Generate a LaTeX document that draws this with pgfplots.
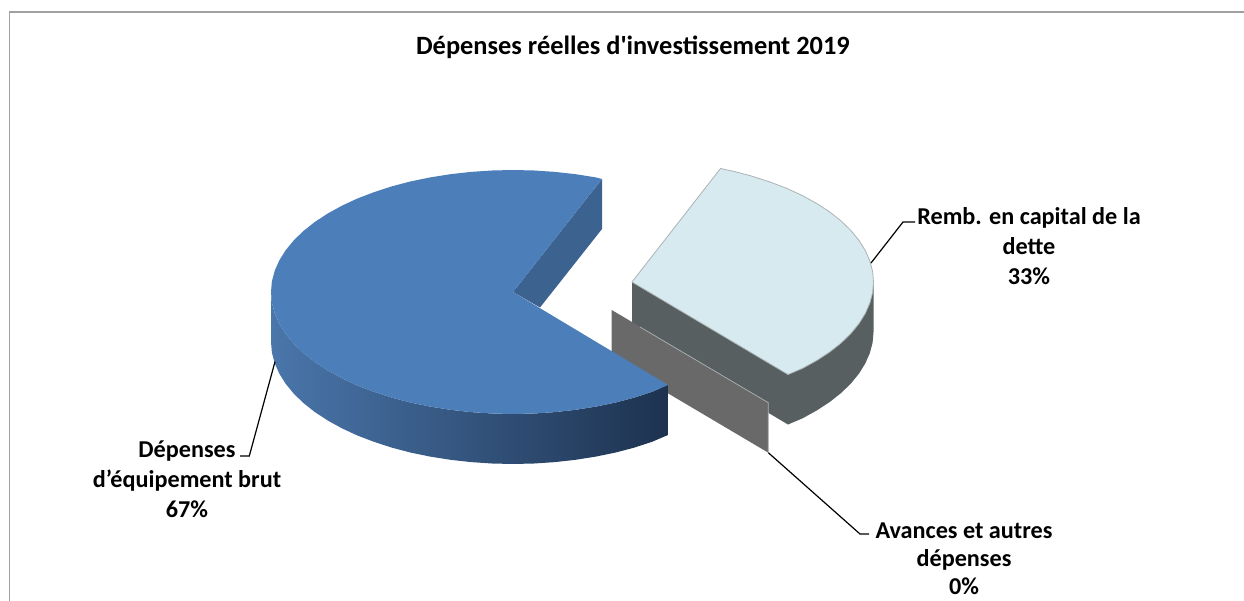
\documentclass[border=0pt]{standalone}
\usepackage{pgfplots}
\pgfplotsset{compat=1.18}
\usepackage{fontspec}
\setmainfont{Carlito}
\newfontfamily\titlefont[Ligatures=TeXOff]{Carlito}
\definecolor{blueTop}{HTML}{4C7EB9}
\definecolor{blueIn}{HTML}{3C6290}
\definecolor{blueA}{HTML}{4A76AB}
\definecolor{blueB}{HTML}{345A87}
\definecolor{blueC}{HTML}{1D324F}
\definecolor{paleTop}{HTML}{D7EAF0}
\definecolor{paleSide}{HTML}{575F60}
\definecolor{paleEdge}{HTML}{ABB3B5}
\definecolor{slab}{HTML}{696969}
\definecolor{frame}{HTML}{A0A0A0}
\newcommand{\lbl}{\fontsize{24.2}{30}\selectfont\bfseries}
\begin{document}
\begin{tikzpicture}
\begin{axis}[
  scale only axis, width=1244pt, height=601pt,
  xmin=0, xmax=1244, ymin=0, ymax=601, y dir=reverse,
  hide axis, clip=true]
% page ground and chart frame
\addplot[fill=white, draw=none] coordinates {(0,0) (1244,0) (1244,601) (0,601)} -- cycle;
\addplot[frame, line width=1.5pt] coordinates {(9.7,601) (9.7,11.8) (1244,11.8)};

% 33% slice: walls, then top face
\addplot[fill=paleSide, draw=none] coordinates {(632,282) (788,374.5) (788,424.5) (632,332)} -- cycle;
\addplot[fill=paleSide, draw=none] coordinates {
 (873.5,282) (872.6,292.6) (869.8,303.2) (865.2,313.6) (858.9,323.7) (850.8,333.6)
 (841.1,343) (829.7,352) (816.9,360.4) (802.6,368.3) (788,374.5)
 (788,424.5) (802.6,418.3) (816.9,410.4) (829.7,402) (841.1,393) (850.8,383.6)
 (858.9,373.7) (865.2,363.6) (869.8,353.2) (872.6,342.6) (873.5,332)} -- cycle;
\addplot[fill=paleTop, draw=paleEdge, line width=0.8pt] coordinates {
 (632,282) (720.5,168.5) (733.8,171.4) (752.5,176.3) (770.3,182.1) (787.1,188.5)
 (802.6,195.7) (816.9,203.6) (829.7,212) (841.1,221) (850.8,230.4) (858.9,240.3)
 (865.2,250.4) (869.8,260.8) (872.6,271.4) (873.5,282) (872.6,292.6) (869.8,303.2)
 (865.2,313.6) (858.9,323.7) (850.8,333.6) (841.1,343) (829.7,352) (816.9,360.4)
 (802.6,368.3) (788,374.5)} -- cycle;

% 0% slice: a flat wall only
\addplot[fill=slab, draw=none] coordinates {(611.7,310) (768.3,402.7) (768.3,452.7) (611.7,360)} -- cycle;
\addplot[color=paleEdge, line width=0.7pt] coordinates {(640,327) (768.3,402.7) (768.3,452.7)};

% 67% slice: inner wall, outer wall, then top face
\addplot[fill=blueIn, draw=none] coordinates {(513,292) (602,179) (602,229) (540,307.5)} -- cycle;
\addplot[draw=none, left color=blueA, middle color=blueB, right color=blueC] coordinates {
 (271,292) (271.9,302.6) (274.7,313.2) (279.3,323.6) (285.6,333.7) (293.7,343.6)
 (303.4,353) (314.8,362) (327.6,370.4) (341.9,378.3) (357.4,385.5) (374.2,391.9)
 (392,397.7) (410.7,402.6) (430.2,406.6) (450.4,409.8) (470.9,412.1) (491.9,413.5)
 (513,414) (534.1,413.5) (555.1,412.1) (575.6,409.8) (595.8,406.6) (615.3,402.6)
 (634,397.7) (651.8,391.9) (668,385)
 (668,435) (651.8,441.9) (634,447.7) (615.3,452.6) (595.8,456.6) (575.6,459.8)
 (555.1,462.1) (534.1,463.5) (513,464) (491.9,463.5) (470.9,462.1) (450.4,459.8)
 (430.2,456.6) (410.7,452.6) (392,447.7) (374.2,441.9) (357.4,435.5) (341.9,428.3)
 (327.6,420.4) (314.8,412) (303.4,403) (293.7,393.6) (285.6,383.7) (279.3,373.6)
 (274.7,363.2) (271.9,352.6) (271,342)} -- cycle;
\addplot[fill=blueTop, draw=none] coordinates {
 (513,292) (602,179) (595.8,177.4) (575.6,174.2) (555.1,171.9) (534.1,170.5) (513,170)
 (491.9,170.5) (470.9,171.9) (450.4,174.2) (430.2,177.4) (410.7,181.4) (392,186.3)
 (374.2,192.1) (357.4,198.5) (341.9,205.7) (327.6,213.6) (314.8,222) (303.4,231)
 (293.7,240.4) (285.6,250.3) (279.3,260.4) (274.7,270.8) (271.9,281.4) (271,292)
 (271.9,302.6) (274.7,313.2) (279.3,323.6) (285.6,333.7) (293.7,343.6) (303.4,353)
 (314.8,362) (327.6,370.4) (341.9,378.3) (357.4,385.5) (374.2,391.9) (392,397.7)
 (410.7,402.6) (430.2,406.6) (450.4,409.8) (470.9,412.1) (491.9,413.5) (513,414)
 (534.1,413.5) (555.1,412.1) (575.6,409.8) (595.8,406.6) (615.3,402.6) (634,397.7)
 (651.8,391.9) (668,385)} -- cycle;

% leader lines
\addplot[black, line width=1.2pt] coordinates {(871,263) (903,222) (915,222)};
\addplot[black, line width=1.2pt] coordinates {(275,361.7) (249.3,456) (240,456)};
\addplot[black, line width=1.2pt] coordinates {(768.3,452.7) (860,534) (869,534)};

% title and data labels
\node[font=\fontsize{26.4}{30}\selectfont\bfseries\titlefont, inner sep=0pt] at (axis cs:633,47) {Dépenses réelles d'investissement 2019};
\node[font=\lbl, align=center, inner sep=0pt] at (axis cs:1029,246) {Remb. en capital de la\\dette\\33\%};
\node[font=\lbl, align=center, inner sep=0pt] at (axis cs:187,479) {Dépenses\\d’équipement brut\\67\%};
\node[font=\fontsize{24.2}{28}\selectfont\bfseries, align=center, inner sep=0pt] at (axis cs:964,559) {Avances et autres\\dépenses\\0\%};
\end{axis}
\end{tikzpicture}
\end{document}
